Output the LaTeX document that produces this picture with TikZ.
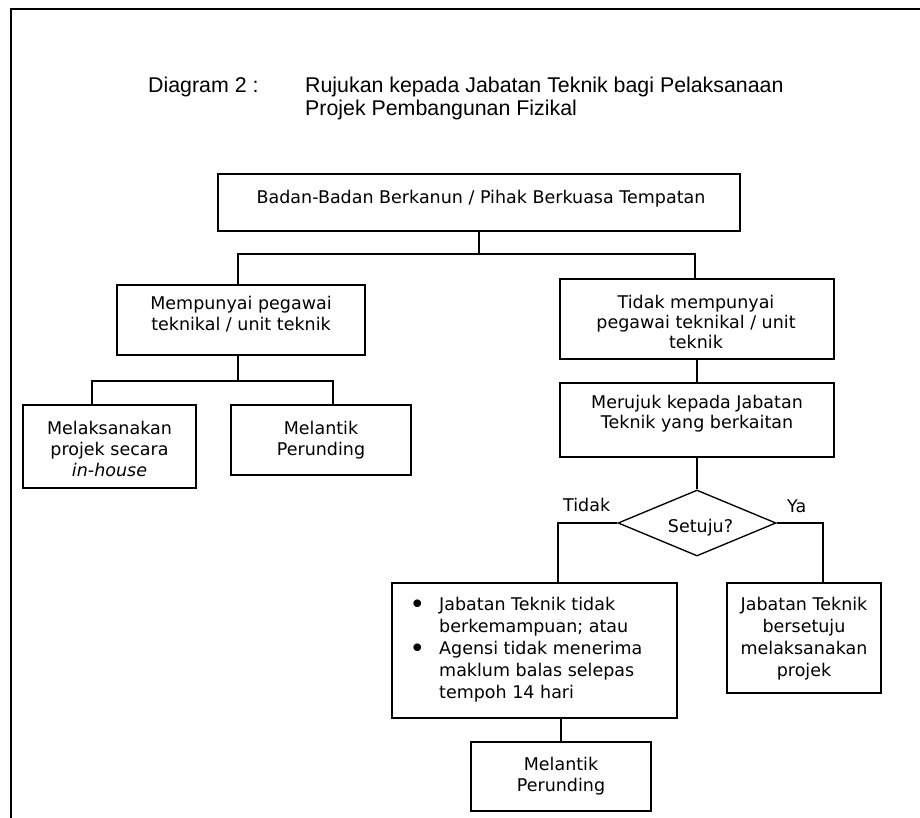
\documentclass[tikz,border=0pt]{standalone}
\usepackage{fontspec}
\setmainfont{DejaVu Sans}
\newfontfamily\titlefont{Liberation Sans}
\usetikzlibrary{shapes.geometric}
\newcommand{\bodyfont}[1]{\fontsize{17.5}{#1}\selectfont}
\newcommand{\bulletmark}{\makebox[29.7pt][l]{\raisebox{-2.5pt}{\scalebox{1.5}{\textbullet}}}}
\begin{document}
\begin{tikzpicture}[x=1pt,y=-1pt,
  box/.style={draw, line width=1.35pt, rectangle, inner sep=0pt},
  txt/.style={inner sep=0pt, anchor=base, font=\bodyfont{21}},
  link/.style={line width=1.35pt},
  lbl/.style={font=\bodyfont{21}, inner sep=0pt, anchor=base west},
  ttl/.style={font=\titlefont\fontsize{21.35}{23}\selectfont, inner sep=0pt, anchor=base west},
  frame/.style={line width=2pt}]
\useasboundingbox (0,0) rectangle (920,818);
% page frame
\draw[frame] (11,818) -- (11,9) -- (920,9);
% title
\node[ttl] (t1) at (148,93) {Diagram 2 :};
\node[ttl] (t2) at (305,93) {Rujukan kepada Jabatan Teknik bagi Pelaksanaan};
\node[ttl] (t3) at (305,116) {Projek Pembangunan Fizikal};
% box frames
\node[box, minimum width=522, minimum height=57] (top) at (479,202.5) {};
\node[box, minimum width=248, minimum height=70] (mem) at (241,320) {};
\node[box, minimum width=274, minimum height=80] (tid) at (697,319) {};
\node[box, minimum width=274, minimum height=74] (meru) at (697,420) {};
\node[box, minimum width=173, minimum height=83] (mel) at (109.5,446.5) {};
\node[box, minimum width=180, minimum height=70] (per1) at (321,440) {};
\node[draw, diamond, aspect=2.4, line width=1.35pt, minimum width=158, minimum height=66,
      inner sep=0pt] (dia) at (697,523) {};
\node[box, minimum width=285, minimum height=135] (bul) at (534.5,650.5) {};
\node[box, minimum width=154, minimum height=110] (ya) at (804,638) {};
\node[box, minimum width=180, minimum height=69] (per2) at (561,776.5) {};
% box texts (anchored at the baseline of their first line)
\node[txt] (top-t) at (481,204) {Badan-Badan Berkanun / Pihak Berkuasa Tempatan};
\node[txt] (mem-t) at (241,309)
  {\begin{tabular}[t]{@{}c@{}}Mempunyai pegawai\\teknikal / unit teknik\end{tabular}};
\node[txt, font=\bodyfont{20}] (tid-t) at (696,308.3)
  {\begin{tabular}[t]{@{}c@{}}Tidak mempunyai\\pegawai teknikal / unit\\teknik\end{tabular}};
\node[txt, font=\bodyfont{20.5}] (meru-t) at (697,408.3)
  {\begin{tabular}[t]{@{}c@{}}Merujuk kepada Jabatan\\Teknik yang berkaitan\end{tabular}};
\node[txt] (mel-t) at (109.5,434)
  {\begin{tabular}[t]{@{}c@{}}Melaksanakan\\projek secara\\\textit{in-house}\end{tabular}};
\node[txt] (per1-t) at (321,434)
  {\begin{tabular}[t]{@{}c@{}}Melantik\\Perunding\end{tabular}};
\node[txt] (dia-t) at (700.5,532.7) {Setuju?};
\node[txt, anchor=base west, font=\bodyfont{22}] (bul-t) at (409.3,610.7)
  {\begin{tabular}[t]{@{}l@{}l@{}}
   \bulletmark & Jabatan Teknik tidak\\
               & berkemampuan; atau\\
   \bulletmark & Agensi tidak menerima\\
               & maklum balas selepas\\
               & tempoh 14 hari
   \end{tabular}};
\node[txt, font=\bodyfont{22}] (ya-t) at (804,610.7)
  {\begin{tabular}[t]{@{}c@{}}Jabatan Teknik\\bersetuju\\melaksanakan\\projek\end{tabular}};
\node[txt] (per2-t) at (561,770)
  {\begin{tabular}[t]{@{}c@{}}Melantik\\Perunding\end{tabular}};
% branch labels
\node[lbl] (ltidak) at (563,511) {Tidak};
\node[lbl] (lya) at (787,512) {Ya};
% connectors
\coordinate (j1) at (479,254);
\coordinate (j2) at (238,381);
\draw[link] (top.south) -- (j1);
\draw[link] ([xshift=-3pt]mem.north) |- (j1) -| ([xshift=-2pt]tid.north);
\draw[link] ([xshift=-3pt]mem.south) -- (j2);
\draw[link] ([xshift=-17.5pt]mel.north) |- (j2) -| ([xshift=12pt]per1.north);
\draw[link] (tid.south) -- (meru.north);
\draw[link] (meru.south) -- (dia.north);
\draw[link] (dia.west) -| ([xshift=23.5pt]bul.north);
\draw[link] (dia.east) -| ([xshift=19pt]ya.north);
\draw[link] (bul.south -| per2.north) -- (per2.north);
\end{tikzpicture}
\end{document}
